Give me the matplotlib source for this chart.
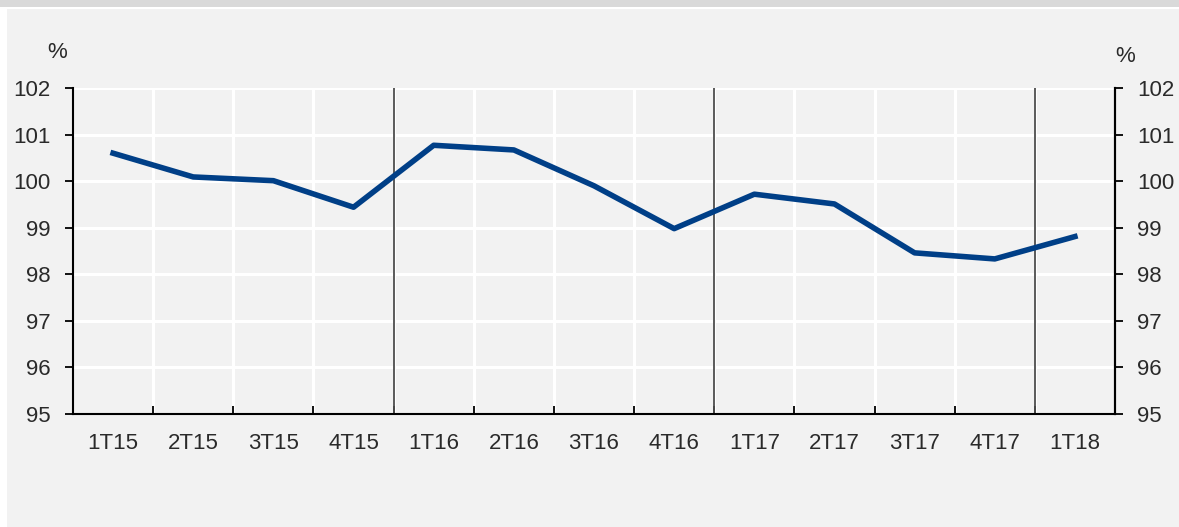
import matplotlib
matplotlib.use("Agg")
import matplotlib.pyplot as plt
from matplotlib.patches import Rectangle
import numpy as np

categories = ["1T15", "2T15", "3T15", "4T15", "1T16", "2T16", "3T16", "4T16",
              "1T17", "2T17", "3T17", "4T17", "1T18"]
values = [100.60, 100.09, 100.01, 99.44, 100.77, 100.67, 99.90, 98.98,
          99.72, 99.51, 98.46, 98.33, 98.81]
yticks = [95, 96, 97, 98, 99, 100, 101, 102]
year_breaks = [3.5, 7.5, 11.5]

plt.rcParams['font.family'] = ['Liberation Sans', 'DejaVu Sans']
FS = 16
TC = "#2a2a2a"

W, H = 1179, 527
fig = plt.figure(figsize=(W / 100, H / 100), dpi=100, facecolor="white")
fig.patches.append(Rectangle((0, 1 - 7 / H), 1, 7 / H, transform=fig.transFigure,
                             facecolor="#d9d9d9", edgecolor="none", zorder=-10))
fig.patches.append(Rectangle((7 / W, 0), 1 - 7 / W, 1 - 9 / H, transform=fig.transFigure,
                             facecolor="#f2f2f2", edgecolor="none", zorder=-10))

left, right, top, bottom = 73 / W, 1115 / W, 1 - 88 / H, 1 - 414 / H
ax = fig.add_axes([left, bottom, right - left, top - bottom])
ax.set_facecolor("#f2f2f2")

x = np.arange(len(categories))
ax.set_xlim(-0.5, len(categories) - 0.5)
ax.set_ylim(95, 102)

for yv in yticks[1:]:
    ax.axhline(yv, color="white", lw=2.2, zorder=1)
for b in np.arange(0.5, len(categories) - 0.5, 1.0):
    ax.axvline(b, color="white", lw=2.2, zorder=1)
for b in year_breaks:
    ax.axvline(b, color="#4d4d4d", lw=1.3, zorder=2)

ax.plot(x, values, color="#003f87", lw=4.0, zorder=3)

ax.set_xticks(x)
ax.set_xticklabels(categories, fontsize=FS, color=TC)
ax.tick_params(axis="x", which="major", length=0, pad=14)
ax.set_xticks(np.arange(-0.5, len(categories), 1.0), minor=True)
ax.tick_params(axis="x", which="minor", direction="in", length=6, width=1.3, color="black")

ax.set_yticks(yticks)
ax.set_yticklabels([str(v) for v in yticks], fontsize=FS, color=TC)
ax.tick_params(axis="y", direction="out", length=6, width=1.3, pad=10)

ax.spines["top"].set_visible(False)
for s in ["left", "bottom", "right"]:
    ax.spines[s].set_linewidth(1.5)
    ax.spines[s].set_color("black")

ax2 = ax.twinx()
ax2.set_ylim(95, 102)
ax2.set_yticks(yticks)
ax2.set_yticklabels([str(v) for v in yticks], fontsize=FS, color=TC)
ax2.tick_params(axis="y", direction="out", length=6, width=1.3, pad=10)
for s in ["top", "left", "bottom"]:
    ax2.spines[s].set_visible(False)
ax2.spines["right"].set_linewidth(1.5)

fig.text(57 / W, 1 - 52 / H, "%", fontsize=FS, ha="center", va="center", color=TC)
fig.text(1125 / W, 1 - 57 / H, "%", fontsize=FS, ha="center", va="center", color=TC)

fig.savefig("out.png", dpi=100, facecolor=fig.get_facecolor())
